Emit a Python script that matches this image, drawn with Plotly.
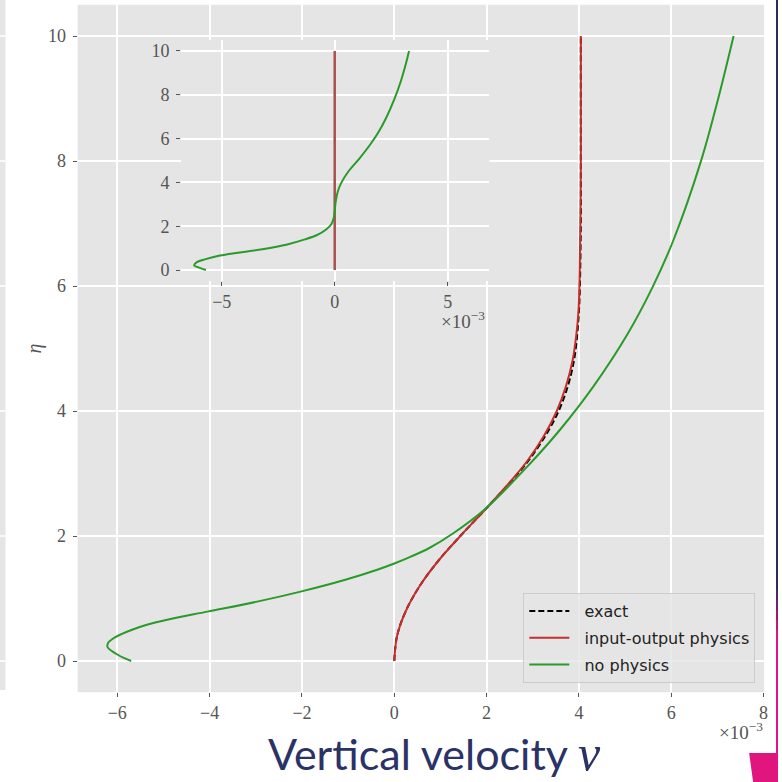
import plotly.graph_objects as go

# ---- main panel: vertical velocity profiles (x 1e-3) versus eta ----
eta_exact = [0.0, 0.4, 0.8, 1.2, 1.6, 2.0, 2.4, 2.8, 3.2, 3.6, 4.0, 4.4, 4.8,
             5.2, 5.6, 6.0, 7.0, 8.0, 9.0, 10.0]
v_exact = [0.0, 0.06, 0.25, 0.55, 0.95, 1.43, 1.94, 2.44, 2.90, 3.27, 3.56,
           3.76, 3.89, 3.96, 4.00, 4.02, 4.04, 4.04, 4.04, 4.04]

eta_io = eta_exact
v_io = [0.0, 0.06, 0.25, 0.55, 0.95, 1.43, 1.94, 2.43, 2.88, 3.24, 3.52,
        3.72, 3.86, 3.94, 3.99, 4.01, 4.03, 4.04, 4.04, 4.04]

eta_nophys = [0.0, 0.05, 0.1, 0.15, 0.22, 0.29, 0.36, 0.43, 0.5, 0.58, 0.66,
              0.79, 0.95, 1.11, 1.30, 1.46, 1.56, 1.67, 1.80, 2.04, 2.42,
              3.11, 3.70, 4.39, 5.24, 5.99, 6.74, 7.99, 8.98, 10.0]
v_nophys = [-5.70, -5.86, -5.99, -6.10, -6.21, -6.20, -6.09, -5.91, -5.68,
            -5.36, -4.92, -4.05, -2.97, -2.03, -1.06, -0.37, 0.00, 0.36, 0.74,
            1.27, 1.95, 2.88, 3.59, 4.31, 5.06, 5.60, 6.05, 6.64, 7.01, 7.35]

# ---- inset: error with respect to the exact profile ----
eta_err_io = [0.0, 10.0]
err_io = [0.0, 0.0]

eta_err_nophys = [0.0, 0.1, 0.22, 0.36, 0.5, 0.66, 0.79, 0.95, 1.17, 1.4, 1.6,
                  1.85, 2.09, 2.4, 2.69, 3.1, 3.6, 4.0, 4.52, 5.1, 5.74, 6.3,
                  6.95, 7.8, 8.63, 9.3, 10.0]
err_nophys = [-5.70, -5.97, -6.22, -6.10, -5.71, -5.08, -4.28, -3.20, -2.10,
              -1.32, -0.78, -0.38, -0.15, -0.04, 0.00, 0.04, 0.14, 0.30, 0.62,
              1.10, 1.58, 1.94, 2.28, 2.64, 2.93, 3.12, 3.29]

main_xticks = [-6, -4, -2, 0, 2, 4, 6, 8]
inset_xticks = [-5, 0, 5]
eta_ticks = [0, 2, 4, 6, 8, 10]

W = H = 782
RED = "#c62e2b"
GREEN = "#2a9a2a"
TICK = "#555555"
SERIF = "Liberation Serif"
NB = "\u00a0\u00a0"


def px_x(p):
    return p / W


def px_y(p):
    return (H - p) / H


fig = go.Figure()

fig.add_trace(go.Scatter(x=v_exact, y=eta_exact, mode="lines", name=NB + "exact",
                         line=dict(color="black", width=2, dash="6px,3px", shape="spline"),
                         legendgroup="a", xaxis="x", yaxis="y"))
fig.add_trace(go.Scatter(x=v_io, y=eta_io, mode="lines", name=NB + "input-output physics",
                         line=dict(color=RED, width=2, shape="spline"),
                         legendgroup="b", xaxis="x", yaxis="y"))
fig.add_trace(go.Scatter(x=v_nophys, y=eta_nophys, mode="lines", name=NB + "no physics",
                         line=dict(color=GREEN, width=2, shape="spline", smoothing=1),
                         legendgroup="c", xaxis="x", yaxis="y"))

fig.add_trace(go.Scatter(x=err_io, y=eta_err_io, mode="lines", showlegend=False,
                         line=dict(color="#a9504d", width=2.5),
                         xaxis="x2", yaxis="y2"))
fig.add_trace(go.Scatter(x=err_nophys, y=eta_err_nophys, mode="lines", showlegend=False,
                         line=dict(color=GREEN, width=2, shape="spline", smoothing=1),
                         xaxis="x2", yaxis="y2"))

axis_style = dict(
    ticks="outside", ticklen=4, tickwidth=1, tickcolor=TICK,
    showgrid=True, gridcolor="white", gridwidth=1.6,
    zeroline=False, showline=False,
    tickfont=dict(family=SERIF, size=18, color=TICK),
)

fig.update_layout(
    width=W, height=H,
    margin=dict(l=0, r=0, t=0, b=0),
    paper_bgcolor="white",
    plot_bgcolor="#E5E5E5",
    xaxis=dict(domain=[px_x(78), px_x(768)], range=[-6.86, 8.01],
               tickvals=main_xticks, anchor="y", **axis_style),
    yaxis=dict(domain=[px_y(692.25), px_y(4.75)], range=[-0.5, 10.5],
               tickvals=eta_ticks, anchor="x", ticklabelstandoff=3, **axis_style),
    xaxis2=dict(domain=[px_x(182), px_x(492)], range=[-6.8, 6.85],
                tickvals=inset_xticks, anchor="y2", **axis_style),
    yaxis2=dict(domain=[px_y(281), px_y(40)], range=[-0.5, 10.5],
                tickvals=eta_ticks, anchor="x2", ticklabelstandoff=3, **axis_style),
    legend=dict(x=px_x(526), y=px_y(593), xanchor="left", yanchor="top",
                bgcolor="rgba(229,229,229,0.8)", bordercolor="#cccccc",
                borderwidth=1, tracegroupgap=3, itemwidth=40,
                font=dict(family="DejaVu Sans", size=16, color="#222222")),
    showlegend=True,
)

annotations = [
    dict(text="<i>η</i>", x=px_x(21), y=px_y(348), xref="paper", yref="paper",
         textangle=-90, showarrow=False,
         font=dict(family=SERIF, size=20, color=TICK)),
    dict(text="×10<sup>−3</sup>", x=px_x(769), y=px_y(731), xref="paper", yref="paper",
         xanchor="right", yanchor="middle", showarrow=False,
         font=dict(family=SERIF, size=19, color=TICK)),
    dict(text="×10<sup>−3</sup>", x=px_x(490), y=px_y(320), xref="paper", yref="paper",
         xanchor="right", yanchor="middle", showarrow=False,
         font=dict(family=SERIF, size=19, color=TICK)),
    dict(text="Vertical velocity <span style='font-family:Liberation Serif;font-size:50px'><i>v</i></span>",
         x=px_x(437), y=px_y(753), xref="paper", yref="paper",
         xanchor="center", yanchor="middle", showarrow=False,
         font=dict(family="Lato", size=43, color="#2b3266")),
]
fig.update_layout(annotations=annotations)

shapes = []
# neighbouring panel peeking in at the left edge
shapes.append(dict(type="rect", xref="paper", yref="paper",
                   x0=0, x1=px_x(5.5), y0=px_y(690), y1=1,
                   fillcolor="#E5E5E5", line=dict(width=0), layer="below"))
for t in eta_ticks:
    shapes.append(dict(type="line", xref="paper", yref="y", x0=0, x1=px_x(5.5),
                       y0=t, y1=t, line=dict(color="white", width=1.6)))
# slide frame accents on the right
shapes.append(dict(type="rect", xref="paper", yref="paper",
                   x0=px_x(780), x1=1, y0=px_y(590), y1=1,
                   fillcolor="#2b2d52", line=dict(width=0)))
accent = ["#4a2a5c", "#70235f", "#9a1c68", "#c21670"]
for i, c in enumerate(accent):
    shapes.append(dict(type="rect", xref="paper", yref="paper",
                       x0=px_x(780), x1=1, y0=px_y(590 + 10 * (i + 1)), y1=px_y(590 + 10 * i),
                       fillcolor=c, line=dict(width=0)))
shapes.append(dict(type="rect", xref="paper", yref="paper",
                   x0=px_x(780), x1=1, y0=px_y(753), y1=px_y(630),
                   fillcolor="#e0157e", line=dict(width=0)))
shapes.append(dict(type="path", xref="paper", yref="paper",
                   path=f"M {px_x(753)},{px_y(753)} L 1,{px_y(753)} L 1,0 L {px_x(757)},0 Z",
                   fillcolor="#e0157e", line=dict(width=0)))
fig.update_layout(shapes=shapes)

fig.write_html("out.html")
